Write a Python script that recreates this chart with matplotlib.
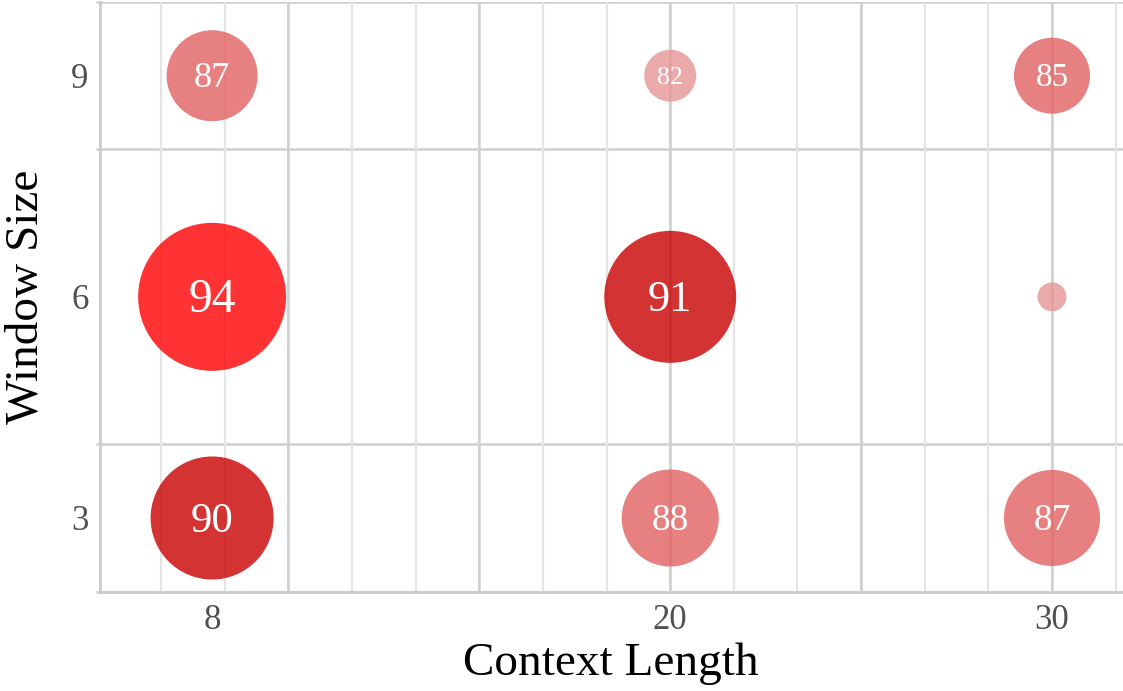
import numpy as np
import matplotlib
matplotlib.use("Agg")
import matplotlib.pyplot as plt
from matplotlib.transforms import offset_copy

# data: context length x window size, label = accuracy, bubble = relative weight
context_len = [8, 20, 30, 8, 20, 30, 8, 20, 30]
window_size = [9, 9, 9, 6, 6, 6, 3, 3, 3]
accuracy = [87.0, 82.0, 85.0, 94.0, 91.0, 79.0, 90.0, 88.0, 87.0]
bubble_weight = [37.8, 12.3, 26.4, 100.0, 79.5, 3.8, 69.1, 43.0, 42.1]

x_ticks = [8, 20, 30]
y_ticks = [3, 6, 9]

DPI = 100
plt.rcParams['font.family'] = ['Liberation Serif', 'DejaVu Serif']

fig = plt.figure(figsize=(11.23, 6.91), dpi=DPI)
ax = fig.add_axes([99.5 / 1123, 1 - 591.7 / 691, 1 - 99.5 / 1123, (591.7 - 2) / 691])

def couleur(v):
    if v >= 93:
        return (1.0, 0.0, 0.0)
    if v >= 89.5:
        return (200 / 255, 0.0, 0.0)
    if v >= 84:
        return (226 / 255, 96 / 255, 96 / 255)
    return (231 / 255, 149 / 255, 149 / 255)

max_d = 148  # largest bubble diameter (px)
diam = [max_d * np.sqrt(w / 100.0) for w in bubble_weight]
sizes = [(d * 72 / DPI) ** 2 for d in diam]
cols = [couleur(v) for v in accuracy]

ax.scatter(context_len, window_size, s=sizes, c=cols, alpha=0.8,
           linewidths=0, zorder=3)

for xv, yv, v, d in zip(context_len, window_size, accuracy, diam):
    if d < 40:
        continue
    fs = min(d / 2, 0.2 * d + 18) * 72 / DPI
    tr = offset_copy(ax.transData, fig=fig, x=0, y=-0.32 * fs, units='points')
    ax.text(xv, yv, f"{v:.0f}", color='white', fontsize=fs,
            ha='center', va='baseline', transform=tr, zorder=4)

ax.set_xlim(5.05, 31.86)
ax.set_ylim(2, 10)

# vertical grid: major every 5, minor every 5/3
for gx in np.arange(5, 32, 5 / 3):
    ax.axvline(gx, color='#e4e4e4', lw=1.6, zorder=1)
for gx in np.arange(5, 32, 5):
    ax.axvline(gx, color='#cfcfcf', lw=1.8, zorder=1.5)

ax.set_xticks(x_ticks)
ax.set_yticks(y_ticks)
ax.set_yticks(np.arange(2, 11, 2), minor=True)
ax.grid(False)
ax.yaxis.grid(True, which='minor', color='#cfcfcf', lw=1.8, zorder=1.5)
ax.set_axisbelow(True)

ax.tick_params(axis='both', which='major', length=0, labelsize=25,
               labelcolor='#505050')
ax.tick_params(axis='x', which='major', pad=9)
ax.tick_params(axis='y', which='major', pad=8)
ax.tick_params(axis='y', which='minor', length=3, width=1.8, color='#cfcfcf')

for side in ['top', 'right']:
    ax.spines[side].set_visible(False)
for side in ['left', 'bottom']:
    ax.spines[side].set_color('#cccccc')
    ax.spines[side].set_linewidth(2)

ax.set_xlabel('Context Length', fontsize=34, color='black', labelpad=4)
ax.set_ylabel('Window Size', fontsize=34, color='black', labelpad=17)

fig.savefig('out.png', dpi=DPI)
